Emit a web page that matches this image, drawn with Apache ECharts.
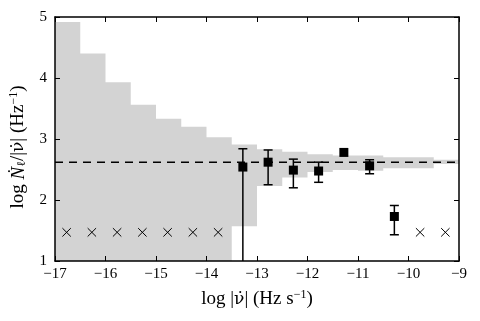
<!DOCTYPE html>
<html>
<head>
<meta charset="utf-8">
<script src="https://cdn.jsdelivr.net/npm/echarts@6/dist/echarts.min.js"></script>
<style>
html,body{margin:0;padding:0;background:#fff}
#chart{width:480px;height:321px}
</style>
</head>
<body>
<div id="chart"></div>
<script>
// shaded step band (half-decade bins)
const binEdges = [-17,-16.5,-16,-15.5,-15,-14.5,-14,-13.5,-13,-12.5,-12,-11.5,-11,-10.5,-10,-9.5,-9];
const bandTop = [4.92,4.40,3.93,3.56,3.33,3.20,3.03,2.91,2.83,2.79,2.75,2.73,2.73,2.70,2.70,2.66];
const bandBottom = [1,1,1,1,1,1,1,1.57,2.23,2.37,2.46,2.49,2.48,2.52,2.52,2.59];

// measured points with error bars
const measX = [-13.28,-12.78,-12.28,-11.78,-11.28,-10.77,-10.28];
const measY = [2.54,2.62,2.49,2.475,2.78,2.56,1.73];
const errLow = [0.5,2.25,2.20,2.29,null,2.43,1.43];
const errHigh = [2.84,2.82,2.67,2.62,null,2.66,1.91];

// upper limits (crosses)
const limitX = [-16.77,-16.27,-15.77,-15.27,-14.77,-14.27,-13.77,-9.77,-9.27];
const limitY = [1.47,1.47,1.47,1.47,1.47,1.47,1.47,1.47,1.47];

const meanLevel = 2.62;
const xTicks = [-17,-9];
const yTicks = [1,5];

const font = 'Liberation Serif, DejaVu Serif, serif';
const minus = v => String(v).replace('-', '\u2212');

const chart = echarts.init(document.getElementById('chart'));

function axisBase(extra) {
  return Object.assign({
    type: 'value',
    z: 10,
    axisLine: {show: true, onZero: false, lineStyle: {color: '#000', width: 1.5}},
    axisTick: {show: true, inside: true, length: 5, lineStyle: {color: '#000', width: 1}},
    splitLine: {show: false},
    axisLabel: {show: false}
  }, extra);
}

const nameRich = {
  it: {fontFamily: font, fontSize: 19, fontStyle: 'italic'},
  nu: {fontFamily: 'DejaVu Serif', fontSize: 17},
  sub: {fontFamily: font, fontSize: 12, padding: [7, 0, 0, 0]},
  sup: {fontFamily: font, fontSize: 12, verticalAlign: 'bottom', padding: [0, 0, 9, 0]}
};

const option = {
  animation: false,
  grid: {left: 53, right: 21, top: 17, bottom: 60},
  xAxis: [
    axisBase({
      min: xTicks[0], max: xTicks[1], interval: 1,
      axisLabel: {show: true, color: '#000', fontFamily: font, fontSize: 15, margin: 6, formatter: minus},
      name: 'log |{nu|ν̇}| (Hz s{sup|\u22121})',
      nameLocation: 'middle',
      nameGap: 28,
      nameTextStyle: {color: '#000', fontFamily: font, fontSize: 19, rich: nameRich}
    }),
    axisBase({position: 'top', min: xTicks[0], max: xTicks[1], interval: 1})
  ],
  yAxis: [
    axisBase({
      min: yTicks[0], max: yTicks[1], interval: 1,
      axisLabel: {show: true, color: '#000', fontFamily: font, fontSize: 15, margin: 8},
      name: 'log {it|Ṅ}{sub|ℓ}/|{nu|ν̇}| (Hz{sup|\u22121})',
      nameLocation: 'middle',
      nameRotate: 90,
      nameGap: 26,
      nameTextStyle: {color: '#000', fontFamily: font, fontSize: 19, rich: nameRich, padding: [0, 16, 0, 0]}
    }),
    axisBase({position: 'right', min: yTicks[0], max: yTicks[1], interval: 1})
  ],
  series: [
    {
      type: 'custom',
      z: 1,
      silent: true,
      data: [[binEdges[0], bandTop[0]]],
      renderItem(params, api) {
        const top = [], bottom = [];
        for (let i = 0; i < bandTop.length; i++) {
          top.push(api.coord([binEdges[i], bandTop[i]]), api.coord([binEdges[i + 1], bandTop[i]]));
          bottom.push(api.coord([binEdges[i], bandBottom[i]]), api.coord([binEdges[i + 1], bandBottom[i]]));
        }
        return {type: 'polygon', shape: {points: top.concat(bottom.reverse())}, style: {fill: '#d3d3d3'}};
      }
    },
    {
      type: 'line',
      z: 2,
      symbol: 'none',
      data: [[xTicks[0], meanLevel], [xTicks[1], meanLevel]],
      lineStyle: {color: '#000', width: 1.5, type: [8, 6]}
    },
    {
      type: 'custom',
      z: 3,
      clip: true,
      data: measX.map((x, i) => [x, errLow[i], errHigh[i]]).filter(d => d[1] != null),
      renderItem(params, api) {
        const lo = api.coord([api.value(0), api.value(1)]);
        const hi = api.coord([api.value(0), api.value(2)]);
        const st = {stroke: '#000', lineWidth: 1.5};
        return {type: 'group', children: [
          {type: 'line', shape: {x1: lo[0], y1: lo[1], x2: hi[0], y2: hi[1]}, style: st},
          {type: 'line', shape: {x1: lo[0] - 4.5, y1: lo[1], x2: lo[0] + 4.5, y2: lo[1]}, style: st},
          {type: 'line', shape: {x1: hi[0] - 4.5, y1: hi[1], x2: hi[0] + 4.5, y2: hi[1]}, style: st}
        ]};
      }
    },
    {
      type: 'scatter',
      z: 4,
      symbol: 'rect',
      symbolSize: 9,
      itemStyle: {color: '#000', opacity: 1},
      data: measX.map((x, i) => [x, measY[i]])
    },
    {
      type: 'custom',
      z: 4,
      data: limitX.map((x, i) => [x, limitY[i]]),
      renderItem(params, api) {
        const p = api.coord([api.value(0), api.value(1)]);
        const r = 4.2;
        const st = {stroke: '#000', lineWidth: 1};
        return {type: 'group', children: [
          {type: 'line', shape: {x1: p[0] - r, y1: p[1] - r, x2: p[0] + r, y2: p[1] + r}, style: st},
          {type: 'line', shape: {x1: p[0] - r, y1: p[1] + r, x2: p[0] + r, y2: p[1] - r}, style: st}
        ]};
      }
    }
  ]
};

chart.setOption(option);
</script>
</body>
</html>
